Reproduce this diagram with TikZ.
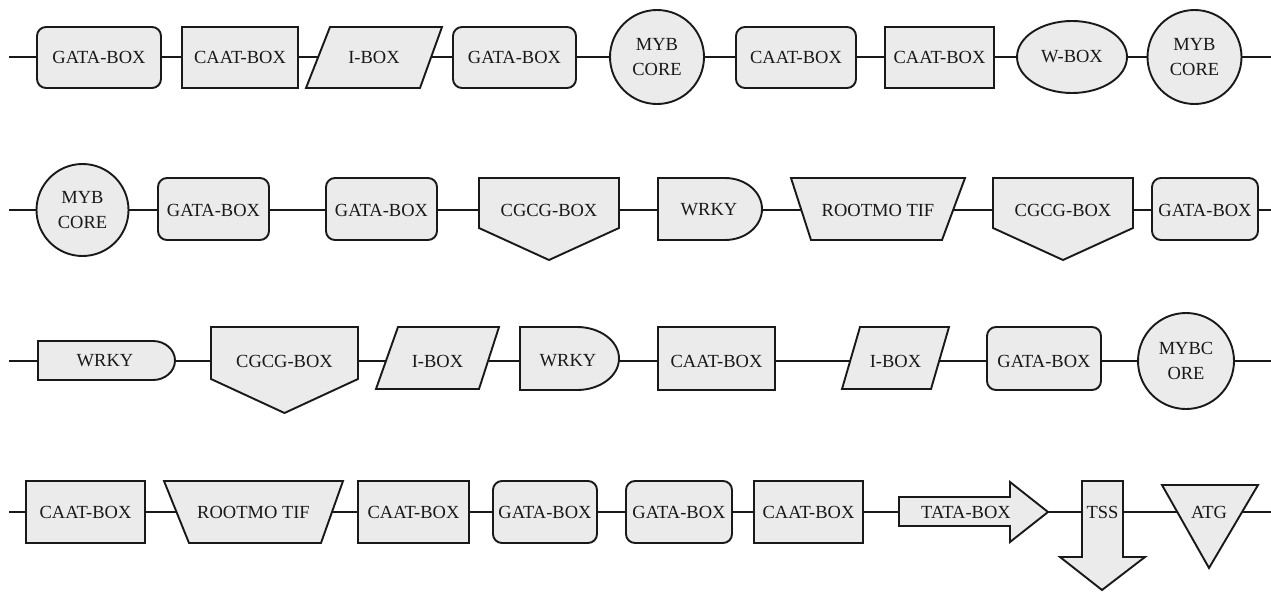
\documentclass[tikz,border=0pt]{standalone}
\usepackage{fontspec}
\setmainfont{Liberation Serif}
\pgfdeclarelayer{bg}
\pgfsetlayers{bg,main}
\tikzset{
  shp/.style={draw=black!90, fill=black!8, line width=1.9pt, line join=miter},
  rbx/.style={shp, rounded corners=9pt},
  txt/.style={inner sep=0pt, align=center, font=\fontsize{18.5}{25}\selectfont, text=black!90},
  conn/.style={draw=black!90, line width=1.9pt}
}
\begin{document}
\begin{tikzpicture}[x=1pt,y=-1pt]
\useasboundingbox (0,0) rectangle (1271,592);

% ---------- Row 1 (y = 57) ----------
\coordinate (r1s) at (9,57);
\coordinate (r1z) at (1271,57);
\draw[rbx] (37,27) rectangle (161,88);
\node[txt] (r1a) at (99,57) {GATA-BOX};
\draw[shp] (182,27) rectangle (298,88);
\node[txt] (r1b) at (240,57) {CAAT-BOX};
\draw[shp] (306,88) -- (330,27) -- (442,27) -- (420,88) -- cycle;
\node[txt] (r1c) at (374,57) {I-BOX};
\draw[rbx] (453,27) rectangle (576,88);
\node[txt] (r1d) at (514.5,57) {GATA-BOX};
\draw[shp] (657,57) circle [radius=47];
\node[txt] (r1e) at (657,57) {MYB\\CORE};
\draw[rbx] (736,27) rectangle (856,88);
\node[txt] (r1f) at (796,57) {CAAT-BOX};
\draw[shp] (885,27) rectangle (994,88);
\node[txt] (r1g) at (939.5,57) {CAAT-BOX};
\draw[shp] (1072,57) ellipse [x radius=55, y radius=36];
\node[txt] (r1h) at (1072,57) {W-BOX};
\draw[shp] (1194.5,57) circle [radius=47];
\node[txt] (r1i) at (1194.5,57) {MYB\\CORE};

% ---------- Row 2 (y = 210) ----------
\coordinate (r2s) at (9,210);
\coordinate (r2z) at (1271,210);
\draw[shp] (82.5,210) circle [radius=46];
\node[txt] (r2a) at (82.5,210) {MYB\\CORE};
\draw[rbx] (158,178) rectangle (269,240);
\node[txt] (r2b) at (213.5,210) {GATA-BOX};
\draw[rbx] (326,178) rectangle (437,240);
\node[txt] (r2c) at (381.5,210) {GATA-BOX};
\draw[shp] (479,178) -- (619,178) -- (619,228) -- (549,260) -- (479,228) -- cycle;
\node[txt] (r2d) at (549,210) {CGCG-BOX};
\draw[shp] (658,178) -- (725,178) arc[start angle=-90, end angle=90, x radius=37, y radius=31] -- (658,240) -- cycle;
\node[txt] (r2e) at (709,210) {WRKY};
\draw[shp] (791,178) -- (965,178) -- (942,240) -- (811,240) -- cycle;
\node[txt] (r2f) at (878,210) {ROOTMO TIF};
\draw[shp] (993,178) -- (1133,178) -- (1133,228) -- (1063,260) -- (993,228) -- cycle;
\node[txt] (r2g) at (1063,210) {CGCG-BOX};
\draw[rbx] (1152,178) rectangle (1258,240);
\node[txt] (r2h) at (1205,210) {GATA-BOX};

% ---------- Row 3 (y = 361) ----------
\coordinate (r3s) at (9,361);
\coordinate (r3z) at (1271,361);
\draw[shp] (38,341) -- (153,341) arc[start angle=-90, end angle=90, x radius=22, y radius=19.5] -- (38,380) -- cycle;
\node[txt] (r3a) at (105,361) {WRKY};
\draw[shp] (211,327) -- (358,327) -- (358,379) -- (284.5,413) -- (211,379) -- cycle;
\node[txt] (r3b) at (284.5,361) {CGCG-BOX};
\draw[shp] (376,389) -- (398,327) -- (499,327) -- (479,389) -- cycle;
\node[txt] (r3c) at (437.5,361) {I-BOX};
\draw[shp] (520,327) -- (577,327) arc[start angle=-90, end angle=90, x radius=42, y radius=31.5] -- (520,390) -- cycle;
\node[txt] (r3d) at (568,361) {WRKY};
\draw[shp] (658,327) rectangle (775,390);
\node[txt] (r3e) at (716.5,361) {CAAT-BOX};
\draw[shp] (842,389) -- (860,327) -- (949,327) -- (931,389) -- cycle;
\node[txt] (r3f) at (895.5,361) {I-BOX};
\draw[rbx] (987,327) rectangle (1101,390);
\node[txt] (r3g) at (1044,361) {GATA-BOX};
\draw[shp] (1186,361) circle [radius=48];
\node[txt] (r3h) at (1186,361) {MYBC\\ORE};

% ---------- Row 4 (y = 512) ----------
\coordinate (r4s) at (9,512);
\coordinate (r4z) at (1271,512);
\draw[shp] (26,481) rectangle (145,543);
\node[txt] (r4a) at (85.5,512) {CAAT-BOX};
\draw[shp] (164,481) -- (343,481) -- (321,543) -- (189,543) -- cycle;
\node[txt] (r4b) at (253.5,512) {ROOTMO TIF};
\draw[shp] (358,481) rectangle (469,543);
\node[txt] (r4c) at (413.5,512) {CAAT-BOX};
\draw[rbx] (493,481) rectangle (597,543);
\node[txt] (r4d) at (545,512) {GATA-BOX};
\draw[rbx] (626,481) rectangle (732,543);
\node[txt] (r4e) at (679,512) {GATA-BOX};
\draw[shp] (754,481) rectangle (863,543);
\node[txt] (r4f) at (808.5,512) {CAAT-BOX};
\draw[shp] (899,497) -- (1010,497) -- (1010,482) -- (1048,512) -- (1010,542) -- (1010,526) -- (899,526) -- cycle;
\node[txt] (r4g) at (966,512) {TATA-BOX};
\draw[shp] (1082,481) -- (1123,481) -- (1123,557) -- (1145,557) -- (1102,590) -- (1060,557) -- (1082,557) -- cycle;
\node[txt] (r4h) at (1102.5,512) {TSS};
\draw[shp] (1162,485) -- (1258,485) -- (1209,568) -- cycle;
\node[txt] (r4i) at (1209,512) {ATG};

% ---------- connectors ----------
\begin{pgfonlayer}{bg}
\draw[conn] (r1s) -- (r1a.center) -- (r1b.center) -- (r1c.center) -- (r1d.center) -- (r1e.center) -- (r1f.center) -- (r1g.center) -- (r1h.center) -- (r1i.center) -- (r1z);
\draw[conn] (r2s) -- (r2a.center) -- (r2b.center) -- (r2c.center) -- (r2d.center) -- (r2e.center) -- (r2f.center) -- (r2g.center) -- (r2h.center) -- (r2z);
\draw[conn] (r3s) -- (r3a.center) -- (r3b.center) -- (r3c.center) -- (r3d.center) -- (r3e.center) -- (r3f.center) -- (r3g.center) -- (r3h.center) -- (r3z);
\draw[conn] (r4s) -- (r4a.center) -- (r4b.center) -- (r4c.center) -- (r4d.center) -- (r4e.center) -- (r4f.center) -- (r4g.center) -- (r4h.center) -- (r4i.center) -- (r4z);
\end{pgfonlayer}
\end{tikzpicture}
\end{document}
